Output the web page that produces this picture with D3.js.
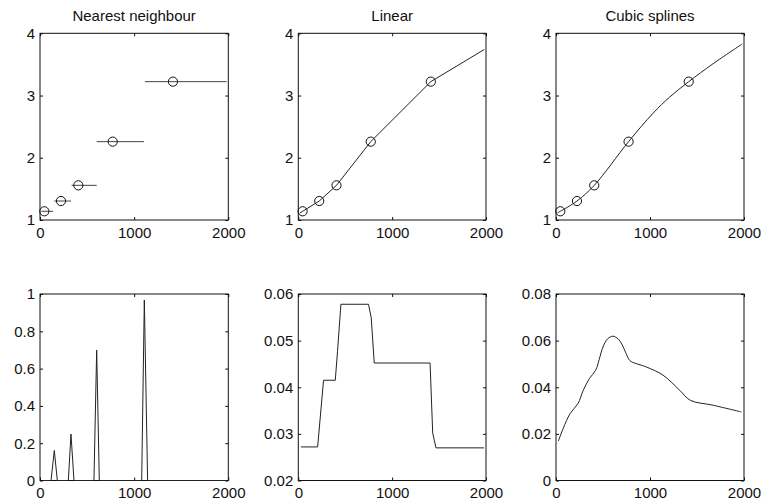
<!DOCTYPE html>
<html><head><meta charset="utf-8">
<script src="https://cdn.jsdelivr.net/npm/d3@7"></script>
<style>
html,body{margin:0;padding:0;background:#fff;}
text{font-family:"Liberation Sans",Arial,Helvetica,sans-serif;fill:#111;}
</style></head>
<body><svg id="c" width="763" height="503"></svg>
<script>
// ---- data ----
const titles = ["Nearest neighbour", "Linear", "Cubic splines"];
const xTicks = [0, 1000, 2000];
const topYTicks = [1, 2, 3, 4];
const nnDerivTicks = [0, 0.2, 0.4, 0.6, 0.8, 1];
const linDerivTicks = [0.02, 0.03, 0.04, 0.05, 0.06];
const cubDerivTicks = [0, 0.02, 0.04, 0.06, 0.08];

const knotX = [46, 223, 407, 772, 1412];
const knotY = [1.14, 1.305, 1.557, 2.259, 3.223];

const nnStart = [15, 152, 336, 602, 1115];
const nnEnd = [140, 329, 602, 1104, 1982];

const linX = [15, 46, 223, 407, 772, 1412, 1982];
const linY = [1.111, 1.14, 1.305, 1.557, 2.259, 3.223, 3.74];

const cubX = [15, 46, 223, 407, 772, 1032, 1209, 1412, 1670, 1982];
const cubY = [1.115, 1.14, 1.305, 1.557, 2.259, 2.715, 2.975, 3.223, 3.51, 3.83];

const nnDX = [25, 117, 152, 184, 301, 329, 361, 573, 602, 630, 1080, 1108, 1143, 1982];
const nnDY = [0, 0, 0.161, 0, 0, 0.249, 0, 0, 0.699, 0, 0, 0.968, 0, 0];

const linDX = [28, 206, 269, 394, 418, 454, 748, 777, 809, 1404, 1432, 1467, 1979];
const linDY = [0.0272, 0.0272, 0.0415, 0.0415, 0.0477, 0.0578, 0.0578, 0.0549, 0.0452, 0.0452, 0.0302, 0.027, 0.027];

const cubDX = [25, 78, 150, 234, 290, 355, 422, 460, 500, 550, 606, 660, 700, 740, 775, 800, 961, 1138, 1316, 1429, 1670, 1972];
const cubDY = [0.0169, 0.0225, 0.0287, 0.033, 0.0387, 0.0437, 0.0473, 0.052, 0.0573, 0.0608, 0.0619, 0.0608, 0.0585, 0.055, 0.052, 0.051, 0.0487, 0.0452, 0.0387, 0.0344, 0.0323, 0.0294];

// ---- layout ----
const colX = [[40, 228.3], [298.3, 486], [556, 744]];
const rowY = [[33.3, 220], [294, 480.5]];

const svg = d3.select("#c");

function panel(col, row, yDomain, yTicks, fmt, title) {
  const x = d3.scaleLinear().domain([0, 2000]).range(colX[col]);
  const y = d3.scaleLinear().domain(yDomain).range([rowY[row][1], rowY[row][0]]);
  const g = svg.append("g");
  const w = colX[col][1] - colX[col][0], h = rowY[row][1] - rowY[row][0];
  // frame
  g.append("rect").attr("x", colX[col][0]).attr("y", rowY[row][0])
    .attr("width", w).attr("height", h).attr("fill", "none").attr("stroke", "#111").attr("stroke-width", 1);
  // axes with inward ticks on all sides
  const bottom = g.append("g").attr("transform", `translate(0,${rowY[row][1]})`)
    .call(d3.axisBottom(x).tickValues(xTicks).tickSize(-3).tickPadding(6).tickFormat(d3.format("d")));
  const top = g.append("g").attr("transform", `translate(0,${rowY[row][0]})`)
    .call(d3.axisTop(x).tickValues(xTicks).tickSize(-3).tickFormat(""));
  const left = g.append("g").attr("transform", `translate(${colX[col][0]},0)`)
    .call(d3.axisLeft(y).tickValues(yTicks).tickSize(-3).tickPadding(5).tickFormat(fmt));
  const right = g.append("g").attr("transform", `translate(${colX[col][1]},0)`)
    .call(d3.axisRight(y).tickValues(yTicks).tickSize(-3).tickFormat(""));
  [bottom, top, left, right].forEach(a => {
    a.select(".domain").remove();
    a.selectAll("line").attr("stroke", "#111");
    a.selectAll("text").style("font-size", "15px").style("font-family", '"Liberation Sans",Arial,sans-serif').attr("fill", "#111");
  });
  bottom.selectAll("text").attr("dy", "0.71em").attr("y", 7);
  if (title) {
    g.append("text").attr("x", (colX[col][0] + colX[col][1]) / 2).attr("y", 21)
      .attr("text-anchor", "middle").style("font-size", "15px").text(title);
  }
  return {g, x, y};
}

const fmtInt = d3.format("d");
const fmtDec = d => String(d);

// top row
const p1 = panel(0, 0, [1, 4], topYTicks, fmtInt, titles[0]);
const p2 = panel(1, 0, [1, 4], topYTicks, fmtInt, titles[1]);
const p3 = panel(2, 0, [1, 4], topYTicks, fmtInt, titles[2]);
// bottom row
const p4 = panel(0, 1, [0, 1], nnDerivTicks, fmtDec, null);
const p5 = panel(1, 1, [0.02, 0.06], linDerivTicks, fmtDec, null);
const p6 = panel(2, 1, [0, 0.08], cubDerivTicks, fmtDec, null);

function drawLine(p, xs, ys, curve) {
  const line = d3.line().x(d => p.x(d[0])).y(d => p.y(d[1])).curve(curve || d3.curveLinear);
  p.g.append("path").datum(xs.map((v, i) => [v, ys[i]]))
    .attr("d", line).attr("fill", "none").attr("stroke", "#222").attr("stroke-width", 1);
}
function drawKnots(p) {
  p.g.selectAll("circle.k").data(knotX.map((v, i) => [v, knotY[i]])).enter()
    .append("circle").attr("class", "k")
    .attr("cx", d => p.x(d[0])).attr("cy", d => p.y(d[1])).attr("r", 4.6)
    .attr("fill", "none").attr("stroke", "#111").attr("stroke-width", 1);
}

// nearest neighbour segments
p1.g.selectAll("line.nn").data(knotY.map((v, i) => [nnStart[i], nnEnd[i], v])).enter()
  .append("line").attr("class", "nn")
  .attr("x1", d => p1.x(d[0])).attr("x2", d => p1.x(d[1]))
  .attr("y1", d => p1.y(d[2])).attr("y2", d => p1.y(d[2]))
  .attr("stroke", "#444").attr("stroke-width", 1);
drawKnots(p1);

drawLine(p2, linX, linY);
drawKnots(p2);

drawLine(p3, cubX, cubY, d3.curveCatmullRom.alpha(0.5));
drawKnots(p3);

drawLine(p4, nnDX, nnDY);
drawLine(p5, linDX, linDY);
drawLine(p6, cubDX, cubDY, d3.curveCatmullRom.alpha(0.5));
</script></body></html>
